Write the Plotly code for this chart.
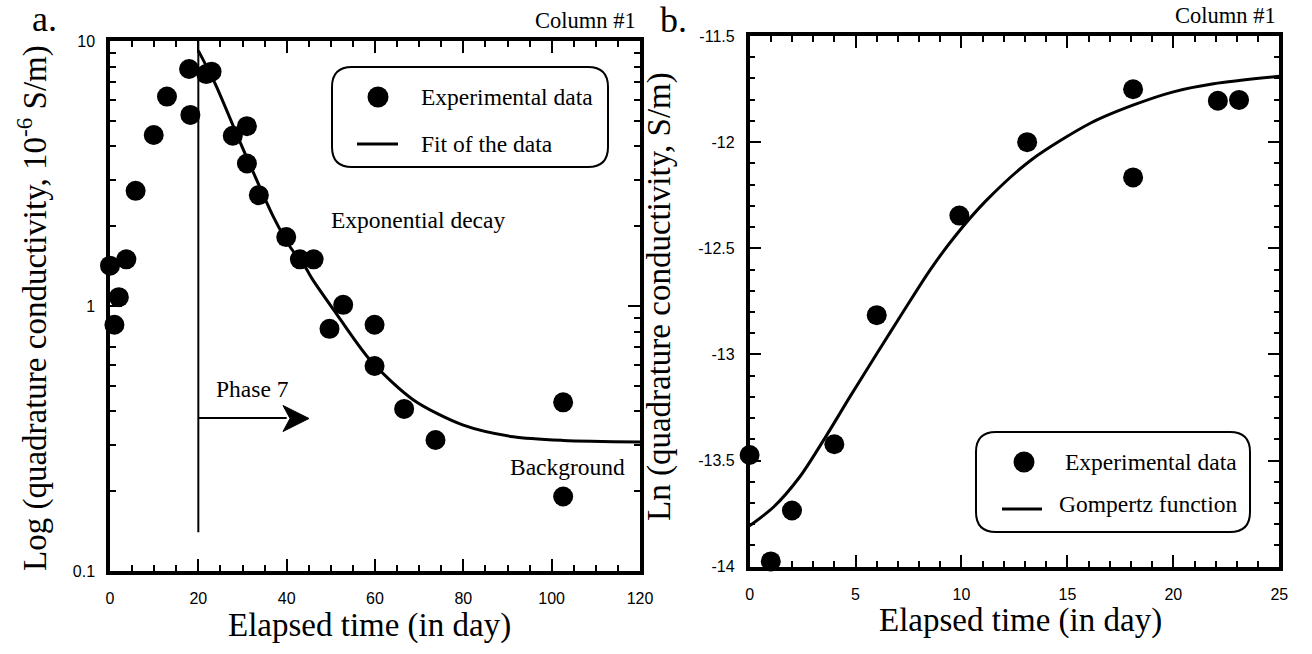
import plotly.graph_objects as go

W, H = 1312, 654

# ---- Panel a: quadrature conductivity (10^-6 S/m) vs elapsed time ----
time_a = [0, 1, 2, 3.7, 5.8, 9.9, 12.9, 17.9, 18.2, 21.8, 23.0, 27.8, 31.0, 31.0,
          33.7, 39.9, 43.0, 46.1, 49.7, 52.8, 59.9, 59.9, 66.6, 73.7, 102.6, 102.6]
sigma_a = [1.42, 0.85, 1.08, 1.50, 2.72, 4.42, 6.17, 7.84, 5.26, 7.50, 7.66, 4.39, 4.77, 3.45,
           2.62, 1.82, 1.50, 1.50, 0.82, 1.01, 0.85, 0.594, 0.409, 0.312, 0.433, 0.191]

# exponential-decay fit (phase 7)
fit_time_a = [20, 23.8, 29.4, 33.2, 37.0, 40.8, 44.1, 46.0, 50.6, 58.9, 68.7, 80.0, 91.3, 102.6, 120]
fit_sigma_a = [9.2, 6.9, 4.17, 2.99, 2.17, 1.67, 1.41, 1.25, 0.97, 0.625, 0.442, 0.355, 0.321, 0.311, 0.307]

# start of phase 7: vertical marker and arrow shaft
phase_start = [20, 20]
phase_marker = [10, 0.14]
phase_arrow_time = [20, 40]
phase_arrow_level = [0.378, 0.378]

x_ticks_a = [0, 20, 40, 60, 80, 100, 120]
y_ticks_a = [0.1, 1, 10]
y_ticktext_a = ["0.1", "1", "10"]
y_minor_a = [0.2, 0.3, 0.4, 0.5, 0.6, 0.7, 0.8, 0.9, 2, 3, 4, 5, 6, 7, 8, 9]

# ---- Panel b: ln(quadrature conductivity) vs elapsed time ----
time_b = [0, 1, 2, 4, 6, 9.9, 13.1, 18.1, 18.1, 22.1, 23.1]
ln_sigma_b = [-13.474, -13.975, -13.735, -13.423, -12.815, -12.346, -12.0,
              -11.751, -12.166, -11.805, -11.801]

gompertz_time_b = [0, 1.12, 2.38, 3.64, 4.74, 6.0, 7.25, 8.5, 9.65, 11.14, 13.29, 16.1,
                   18.09, 20.0, 21.9, 25]
gompertz_b = [-13.807, -13.72, -13.575, -13.38, -13.199, -12.997, -12.799, -12.605,
              -12.449, -12.278, -12.084, -11.91, -11.826, -11.763, -11.725, -11.69]

x_ticks_b = [0, 5, 10, 15, 20, 25]
y_ticks_b = [-14, -13.5, -13, -12.5, -12, -11.5]
y_ticktext_b = ["-14", "-13.5", "-13", "-12.5", "-12", "-11.5"]

SERIF = "Liberation Serif, Times New Roman, serif"
SANS = "Liberation Sans, Arial, sans-serif"


def px(x):
    return x / W


def py(y):
    return 1 - y / H


fig = go.Figure()

fig.add_trace(go.Scatter(x=phase_start, y=phase_marker, mode="lines",
                         line=dict(color="black", width=2), xaxis="x", yaxis="y",
                         showlegend=False, hoverinfo="skip"))
fig.add_trace(go.Scatter(x=phase_arrow_time, y=phase_arrow_level, mode="lines",
                         line=dict(color="black", width=2), xaxis="x", yaxis="y",
                         showlegend=False, hoverinfo="skip"))
fig.add_trace(go.Scatter(x=fit_time_a, y=fit_sigma_a, mode="lines", name="Fit of the data",
                         line=dict(color="black", width=3, shape="spline", smoothing=0.8),
                         xaxis="x", yaxis="y", showlegend=False))
fig.add_trace(go.Scatter(x=time_a, y=sigma_a, mode="markers", name="Experimental data",
                         marker=dict(color="black", size=20), cliponaxis=False,
                         xaxis="x", yaxis="y", showlegend=False))

fig.add_trace(go.Scatter(x=gompertz_time_b, y=gompertz_b, mode="lines", name="Gompertz function",
                         line=dict(color="black", width=3, shape="spline", smoothing=0.8),
                         xaxis="x2", yaxis="y2", showlegend=False))
fig.add_trace(go.Scatter(x=time_b, y=ln_sigma_b, mode="markers", name="Experimental data",
                         marker=dict(color="black", size=20), cliponaxis=False,
                         xaxis="x2", yaxis="y2", showlegend=False))

frame = dict(showline=True, linewidth=3.5, linecolor="black", mirror="allticks",
             ticks="inside", ticklen=12, tickwidth=2, tickcolor="black",
             showgrid=False, zeroline=False, automargin=False, fixedrange=True,
             tickfont=dict(family=SANS, size=16, color="black"))
minor_style = dict(ticks="inside", ticklen=6, tickwidth=2, tickcolor="black", showgrid=False)

fig.update_layout(
    width=W, height=H, autosize=False,
    margin=dict(l=0, r=0, t=0, b=0),
    paper_bgcolor="white", plot_bgcolor="white",
    showlegend=False,
    xaxis=dict(frame, domain=[px(110), px(640)], range=[0, 120], anchor="y",
               tickmode="array", tickvals=x_ticks_a, ticktext=[str(v) for v in x_ticks_a],
               ticklabelstandoff=10,
               minor=dict(minor_style, tickmode="linear", tick0=0, dtick=5)),
    yaxis=dict(frame, domain=[py(571), py(41)], type="log", range=[-1, 1], anchor="x",
               tickmode="array", tickvals=y_ticks_a, ticktext=y_ticktext_a,
               ticklabelstandoff=8,
               minor=dict(minor_style, tickmode="array", tickvals=y_minor_a)),
    xaxis2=dict(frame, domain=[px(749.6), px(1279.3)], range=[0, 25], anchor="y2",
                tickmode="array", tickvals=x_ticks_b, ticktext=[str(v) for v in x_ticks_b],
                ticklabelstandoff=10,
                minor=dict(minor_style, tickmode="linear", tick0=0, dtick=1)),
    yaxis2=dict(frame, domain=[py(566.7), py(36)], range=[-14, -11.5], anchor="x2",
                tickmode="array", tickvals=y_ticks_b, ticktext=y_ticktext_b,
                ticklabelstandoff=8,
                minor=dict(minor_style, tickmode="linear", tick0=-14, dtick=0.1)),
)

annotations = []


def label(text, x, y, size, xanchor="center", angle=0):
    annotations.append(dict(text=text, x=px(x), y=py(y), xref="paper", yref="paper",
                            xanchor=xanchor, yanchor="middle", showarrow=False,
                            textangle=angle, borderpad=0,
                            font=dict(family=SERIF, size=size, color="black")))


# panel letters and headers
label("a.", 31, 19.5, 36, "left")
label("b.", 659, 20, 36, "left")
label("Column #1", 637, 20.5, 22.5, "right")
label("Column #1", 1277, 15.5, 22.5, "right")

# axis titles
label("Elapsed time (in day)", 370, 625, 33)
label("Elapsed time (in day)", 1020, 620, 33)
label("Log (quadrature conductivity, 10<sup>-6</sup> S/m)", 32, 308, 33, angle=-90)
label("Ln (quadrature conductivity, S/m)", 659, 297, 33, angle=-90)

# in-plot notes
label("Exponential decay", 330, 220, 23.5, "left")
label("Phase 7", 215, 389, 23.5, "left")
label("Background", 509, 467, 23.5, "left")

# legend texts
label("Experimental data", 420, 97, 23.5, "left")
label("Fit of the data", 420, 144, 23.5, "left")
label("Experimental data", 1238, 462, 23.5, "right")
label("Gompertz function", 1238, 504, 23.5, "right")

fig.update_layout(annotations=annotations)

shapes = []


def poly(points):
    path = "M " + " L ".join(f"{px(x):.6f},{py(y):.6f}" for x, y in points) + " Z"
    return dict(type="path", path=path, xref="paper", yref="paper",
                fillcolor="black", line=dict(color="black", width=1))


def rounded_box(x0, y0, x1, y1, r):
    pts = [("M", x0 + r, y0), ("L", x1 - r, y0), ("Q", x1, y0, x1, y0 + r),
           ("L", x1, y1 - r), ("Q", x1, y1, x1 - r, y1), ("L", x0 + r, y1),
           ("Q", x0, y1, x0, y1 - r), ("L", x0, y0 + r), ("Q", x0, y0, x0 + r, y0)]
    path = ""
    for p in pts:
        cmd, coords = p[0], p[1:]
        conv = []
        for i in range(0, len(coords), 2):
            conv.append(f"{px(coords[i]):.6f},{py(coords[i + 1]):.6f}")
        path += cmd + " " + " ".join(conv) + " "
    return dict(type="path", path=path + "Z", xref="paper", yref="paper",
                line=dict(color="black", width=2), fillcolor="rgba(0,0,0,0)")


def legend_dot(x, y, d=21):
    return dict(type="circle", xref="paper", yref="paper", xsizemode="pixel", ysizemode="pixel",
                xanchor=px(x), yanchor=py(y), x0=-d / 2, x1=d / 2, y0=-d / 2, y1=d / 2,
                fillcolor="black", line=dict(color="black", width=0))


def legend_line(x0, x1, y):
    return dict(type="line", xref="paper", yref="paper", x0=px(x0), x1=px(x1),
                y0=py(y), y1=py(y), line=dict(color="black", width=3))


# barbed arrow head at the end of the phase 7 shaft
shapes.append(poly([(309, 418.5), (283, 405.5), (290, 418.5), (283, 431.5)]))

shapes += [rounded_box(332, 67, 608, 167, 20), legend_dot(378, 97), legend_line(357, 398, 144),
           rounded_box(976, 432, 1250, 532, 20), legend_dot(1024, 462), legend_line(1002, 1042, 509)]
fig.update_layout(shapes=shapes)

fig.write_html("out.html")
